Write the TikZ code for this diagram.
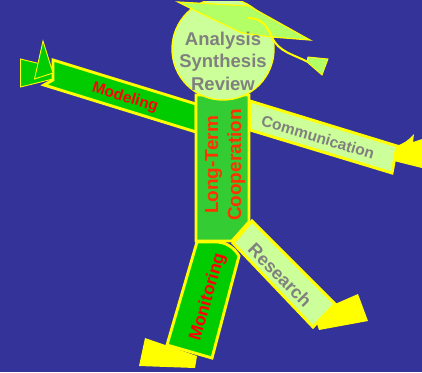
\documentclass[tikz,border=0pt]{standalone}
\usepackage{fontspec}
\setmainfont{Liberation Sans}
\definecolor{bgblue}{HTML}{333399}
\definecolor{limeg}{HTML}{00CC00}
\definecolor{midg}{HTML}{33CC33}
\definecolor{pale}{HTML}{CCFF99}
\definecolor{capg}{HTML}{B2FF66}
\definecolor{yel}{HTML}{FFFF00}
\definecolor{txtgrey}{HTML}{808080}
\definecolor{bodyred}{HTML}{FF3300}
\tikzset{
 limb/.style={draw=yel,line width=2.9pt,line join=miter},
 thin outline/.style={draw=yel,line width=0.9pt},
 foot/.style={fill=yel},
 lab/.style={align=center,inner sep=0pt},
}
\begin{document}
\begin{tikzpicture}[x=1pt,y=-1pt]
\useasboundingbox (0,0) rectangle (422,372);
\fill[bgblue] (0,0) rectangle (422,372);
% left hand
\path[thin outline,fill=limeg] (20.5,59) -- (53,67) -- (53,79) -- (20.5,87) -- cycle;
% feet and right hand
\fill[foot] (145,338) -- (197,356) -- (195,368) -- (139,366) -- cycle;
\fill[foot] (317,324) -- (335,304) -- (358,294) -- (368,321) -- (319,330) -- cycle;
\fill[foot] (396,146) .. controls (403,144) and (409,140) .. (414,134) -- (413,142) -- (422,139) -- (422,168) -- (394,161) -- cycle;
% arms
\path[limb,fill=limeg] (53,60) -- (196,104) -- (196,132) -- (44,85) -- (53,80) -- cycle;
\path[thin outline,fill=limeg] (43,41) -- (53,73) -- (34.5,79) -- cycle;
\path[limb,fill=pale] (250,101) -- (397,146) -- (392,173) -- (250,130) -- cycle;
% legs
\path[limb,fill=limeg] (197,242) -- (218,242) .. controls (228,243) and (235,249) .. (239,256) -- (212,358) -- (167,345) -- cycle;
\path[limb,fill=pale] (233,243) -- (252,221) -- (335,304) -- (313,327) -- cycle;
% body
\path[limb,fill=midg] (196,95) -- (249,95) -- (249,222) -- (232,241) -- (196,241) -- cycle;
% head
\node[circle,draw=yel,line width=1.4pt,fill=pale,minimum size=102pt,inner sep=0pt] (head) at (223,49) {};
% cap
\fill[bgblue] (150,-2) rectangle (260,1);
\path[thin outline,line width=1.2pt,fill=capg] (178,2) -- (249,6) -- (310,40) -- (272,37) -- (242,33) -- (198,12) -- cycle;
\path[draw=yel,line width=2pt] (248,18) .. controls (262,18) and (267,26) .. (272,37) .. controls (278,52) and (295,55) .. (308,62);
\path[thin outline,fill=capg] (308,57) -- (328,59) -- (322,75) -- (307,62) -- cycle;
% text
\node[lab,text=txtgrey,font=\bfseries\fontsize{18.5}{22.5}\selectfont] (headtext) at (223,61) {Analysis\\Synthesis\\Review};
\node[lab,text=red,rotate=-17,font=\bfseries\fontsize{15.5}{18}\selectfont] (modeling) at (125,98) {Modeling};
\node[lab,text=txtgrey,rotate=-17,font=\bfseries\fontsize{15.5}{18}\selectfont] (comm) at (318,137) {Communication};
\node[lab,text=bodyred,rotate=90,font=\bfseries\fontsize{19}{23}\selectfont] (ltc) at (225,165) {Long-Term\\Cooperation};
\node[lab,text=red,rotate=74,font=\bfseries\fontsize{17.5}{20}\selectfont] (monitoring) at (208,297) {Monitoring};
\node[lab,text=txtgrey,rotate=-45,font=\bfseries\fontsize{18}{20}\selectfont] (research) at (280,275) {Research};
\end{tikzpicture}
\end{document}
